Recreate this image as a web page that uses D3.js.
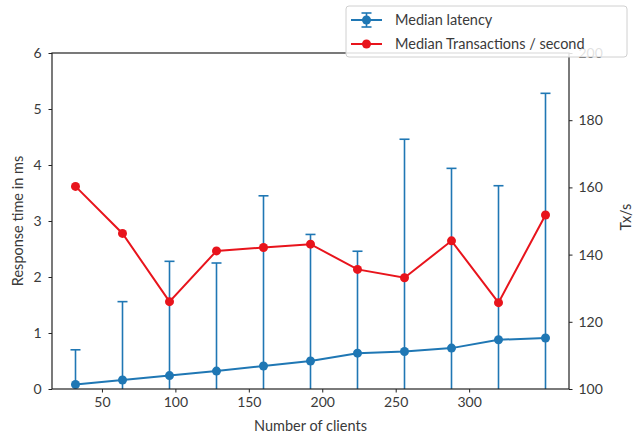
<!DOCTYPE html>
<html><head><meta charset="utf-8">
<script src="https://cdn.jsdelivr.net/npm/d3@7"></script>
<style>
body{margin:0;background:#fff;}
text{font-family:Lato,"DejaVu Sans",sans-serif;}
</style></head>
<body><svg id="c" width="633" height="435"></svg>
<script>
const clients = [32, 64, 96, 128, 160, 192, 224, 256, 288, 320, 352];
const latencyMedian = [0.08, 0.16, 0.24, 0.32, 0.41, 0.50, 0.64, 0.67, 0.73, 0.88, 0.91];
const latencyUpper = [0.70, 1.56, 2.28, 2.25, 3.45, 2.76, 2.46, 4.46, 3.94, 3.63, 5.28];
const latencyLower = [0, 0, 0, 0, 0, 0, 0, 0, 0, 0, 0];
const txPerSecond = [160.3, 146.3, 126.0, 141.1, 142.1, 143.1, 135.6, 133.1, 144.1, 125.7, 151.8];
const xTicks = [50, 100, 150, 200, 250, 300];
const yLeftTicks = [0, 1, 2, 3, 4, 5, 6];
const yRightTicks = [100, 120, 140, 160, 180, 200];

const svg = d3.select("#c");
const L = 52, R = 569, T = 53, B = 389;
const blue = "#1f77b4", red = "#e8141c";
const txt = "#3a3a3a";

const x = d3.scaleLinear().domain([16, 368]).range([L, R]);
const yL = d3.scaleLinear().domain([0, 6]).range([B, T]);
const yR = d3.scaleLinear().domain([100, 200]).range([B, T]);

const g = svg.append("g");

// error bars
const eb = g.append("g").attr("stroke", blue).attr("stroke-width", 1.6);
clients.forEach((c, i) => {
  const cx = x(c);
  eb.append("line").attr("x1", cx).attr("x2", cx).attr("y1", yL(latencyLower[i])).attr("y2", yL(latencyUpper[i]));
  eb.append("line").attr("x1", cx - 5).attr("x2", cx + 5).attr("y1", yL(latencyUpper[i])).attr("y2", yL(latencyUpper[i]));
});

// latency line
g.append("path").datum(clients.map((c, i) => [c, latencyMedian[i]]))
  .attr("fill", "none").attr("stroke", blue).attr("stroke-width", 2)
  .attr("d", d3.line().x(d => x(d[0])).y(d => yL(d[1])));
g.selectAll(".lp").data(clients).enter().append("circle")
  .attr("cx", d => x(d)).attr("cy", (d, i) => yL(latencyMedian[i])).attr("r", 4.5).attr("fill", blue);

// tx line
g.append("path").datum(clients.map((c, i) => [c, txPerSecond[i]]))
  .attr("fill", "none").attr("stroke", red).attr("stroke-width", 2)
  .attr("d", d3.line().x(d => x(d[0])).y(d => yR(d[1])));
g.selectAll(".tp").data(clients).enter().append("circle")
  .attr("cx", d => x(d)).attr("cy", (d, i) => yR(txPerSecond[i])).attr("r", 4.5).attr("fill", red);

// axes
function style(sel) {
  sel.select(".domain").remove();
  sel.selectAll(".tick line").attr("stroke", "#222").attr("stroke-width", 1);
  sel.selectAll(".tick text").attr("fill", txt).style("font-size", "14px").style("font-family", "Lato, 'DejaVu Sans', sans-serif");
}
svg.append("g").attr("transform", `translate(0,${B})`)
  .call(d3.axisBottom(x).tickValues(xTicks).tickSize(3.5).tickPadding(5).tickFormat(d3.format("d"))).call(style);
svg.append("g").attr("transform", `translate(${L},0)`)
  .call(d3.axisLeft(yL).tickValues(yLeftTicks).tickSize(3.5).tickPadding(7).tickFormat(d3.format("d"))).call(style);
svg.append("g").attr("transform", `translate(${R},0)`)
  .call(d3.axisRight(yR).tickValues(yRightTicks).tickSize(3.5).tickPadding(6).tickFormat(d3.format("d"))).call(style);

// frame
svg.append("rect").attr("x", L).attr("y", T).attr("width", R - L).attr("height", B - T)
  .attr("fill", "none").attr("stroke", "#222").attr("stroke-width", 1.2);

// labels
svg.append("text").attr("x", (L + R) / 2).attr("y", 431).attr("text-anchor", "middle")
  .attr("fill", txt).style("font-size", "14.5px").text("Number of clients");
svg.append("text").attr("transform", `translate(23,${(T + B) / 2}) rotate(-90)`).attr("text-anchor", "middle")
  .attr("fill", txt).style("font-size", "14.5px").text("Response time in ms");
svg.append("text").attr("transform", `translate(631,${(T + B) / 2 - 4}) rotate(-90)`).attr("text-anchor", "middle")
  .attr("fill", txt).style("font-size", "14.5px").text("Tx/s");

// legend
const lg = svg.append("g");
lg.append("rect").attr("x", 346).attr("y", 6).attr("width", 281).attr("height", 51).attr("rx", 3)
  .attr("fill", "rgba(255,255,255,0.85)").attr("stroke", "#d0d0d0");
const entries = [
  {label: "Median latency", color: blue, err: true},
  {label: "Median Transactions / second", color: red, err: false}
];
entries.forEach((e, i) => {
  const cy = 20 + i * 24;
  lg.append("line").attr("x1", 351).attr("x2", 382).attr("y1", cy).attr("y2", cy).attr("stroke", e.color).attr("stroke-width", 2);
  if (e.err) {
    lg.append("line").attr("x1", 366.5).attr("x2", 366.5).attr("y1", cy - 7).attr("y2", cy + 7).attr("stroke", e.color).attr("stroke-width", 1.6);
    lg.append("line").attr("x1", 361.5).attr("x2", 371.5).attr("y1", cy - 7).attr("y2", cy - 7).attr("stroke", e.color).attr("stroke-width", 1.6);
    lg.append("line").attr("x1", 361.5).attr("x2", 371.5).attr("y1", cy + 7).attr("y2", cy + 7).attr("stroke", e.color).attr("stroke-width", 1.6);
  }
  lg.append("circle").attr("cx", 366.5).attr("cy", cy).attr("r", 4.5).attr("fill", e.color);
  lg.append("text").attr("x", 395).attr("y", cy).attr("dy", "0.35em").attr("fill", txt)
    .style("font-size", "14.5px").text(e.label);
});
</script></body></html>
